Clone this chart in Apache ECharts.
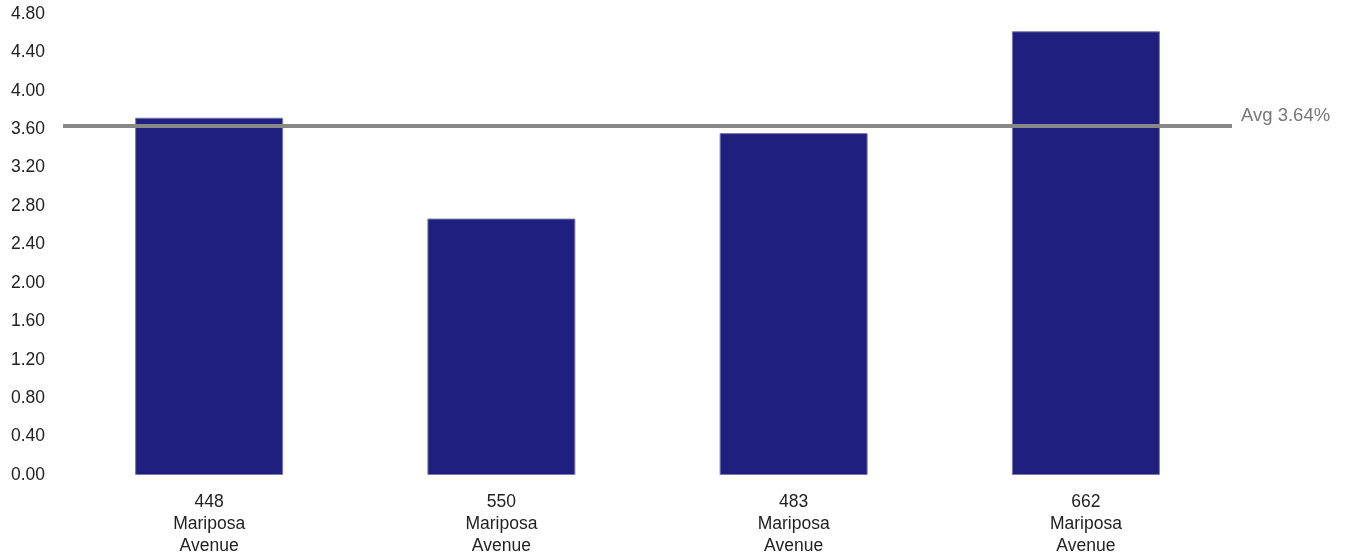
<!DOCTYPE html>
<html>
<head>
<meta charset="utf-8">
<script src="https://cdn.jsdelivr.net/npm/echarts@6/dist/echarts.min.js"></script>
<style>
  html, body { margin: 0; padding: 0; background: #fff; }
  #chart { width: 1349px; height: 559px; }
</style>
</head>
<body>
<div id="chart"></div>
<script>
// Properties and their values
const categories = ['448\nMariposa\nAvenue', '550\nMariposa\nAvenue', '483\nMariposa\nAvenue', '662\nMariposa\nAvenue'];
const values = [3.72, 2.67, 3.56, 4.62];
const average = 3.64;
const yTicks = { min: 0, max: 4.8, interval: 0.4 };

const chart = echarts.init(document.getElementById('chart'));
chart.setOption({
  animation: false,
  textStyle: { fontFamily: 'Liberation Sans, Arial, sans-serif' },
  grid: { left: 63, right: 117, top: 14, bottom: 84 },
  xAxis: {
    type: 'category',
    data: categories,
    axisLine: { show: false },
    axisTick: { show: false },
    axisLabel: { color: '#222', fontSize: 17.5, lineHeight: 22, margin: 16, interval: 0 }
  },
  yAxis: {
    type: 'value',
    min: yTicks.min,
    max: yTicks.max,
    interval: yTicks.interval,
    axisLine: { show: false },
    axisTick: { show: false },
    splitLine: { show: false },
    axisLabel: {
      color: '#222',
      fontSize: 17.5,
      margin: 18,
      formatter: v => v.toFixed(2)
    }
  },
  series: [{
    type: 'bar',
    data: values,
    barWidth: 148,
    itemStyle: { color: '#1f1f80', borderColor: '#7a7aa8', borderWidth: 1 },
    markLine: {
      silent: true,
      symbol: 'none',
      data: [{ yAxis: average }],
      lineStyle: { color: '#888', width: 4, type: 'solid' },
      label: {
        position: 'end',
        formatter: 'Avg ' + average.toFixed(2) + '%',
        color: '#777',
        fontSize: 18.5,
        distance: 9,
        verticalAlign: 'bottom',
        lineHeight: 20
      }
    }
  }]
});
</script>
</body>
</html>
